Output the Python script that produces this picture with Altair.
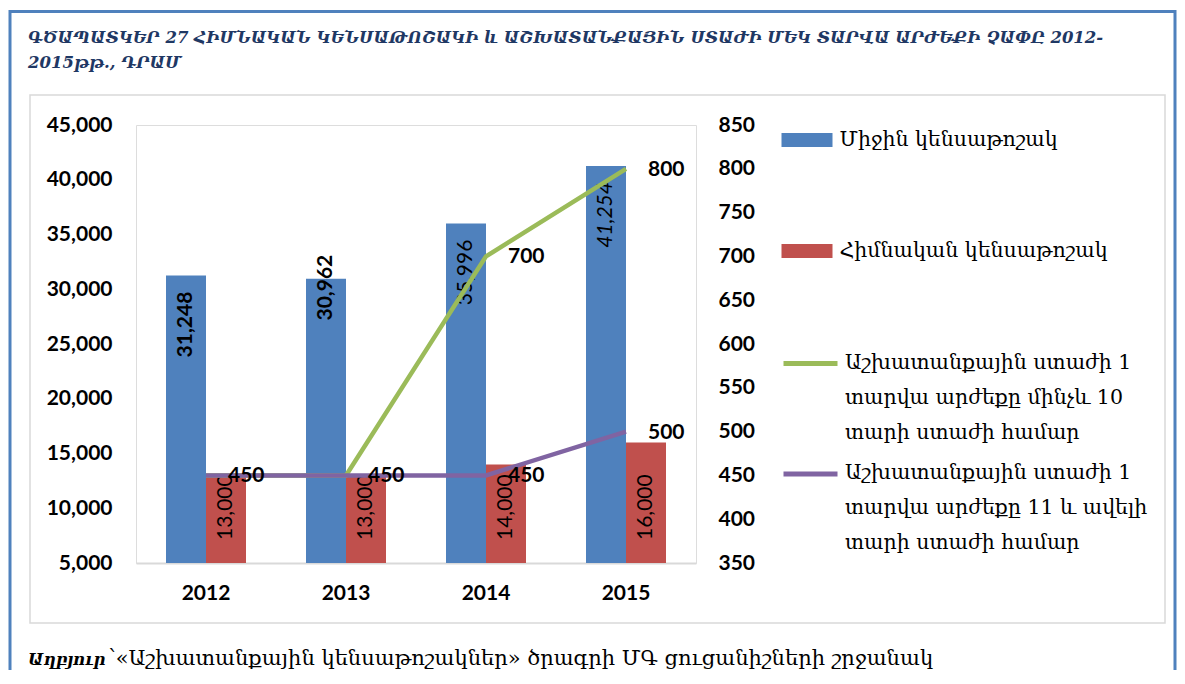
import altair as alt
import pandas as pd

# ---------------- data ----------------
years = ["2012", "2013", "2014", "2015"]
avg_pension = [31248, 30962, 35996, 41254]      # Միջին կենսաթոշակ
base_pension = [13000, 13000, 14000, 16000]     # Հիմնական կենսաթոշակ
value_upto10 = [450, 450, 700, 800]             # մինչև 10 տարի ստաժ
value_11plus = [450, 450, 450, 500]             # 11 և ավելի տարի ստաժ

bar_series = ["Միջին կենսաթոշակ", "Հիմնական  կենսաթոշակ"]
line_series = [
    "Աշխատանքային  ստաժի 1|տարվա արժեքը մինչև 10|տարի ստաժի համար",
    "Աշխատանքային ստաժի 1|տարվա արժեքը 11 և ավելի|տարի ստաժի համար",
]
left_ticks = [5000, 10000, 15000, 20000, 25000, 30000, 35000, 40000, 45000]
right_ticks = [350, 400, 450, 500, 550, 600, 650, 700, 750, 800, 850]

title_lines = [
    "ԳԾԱՊԱՏԿԵՐ  27 ՀԻՄՆԱԿԱՆ ԿԵՆՍԱԹՈՇԱԿԻ և ԱՇԽԱՏԱՆՔԱՅԻՆ ՍՏԱԺԻ ՄԵԿ ՏԱՐՎԱ ԱՐԺԵՔԻ ՉԱՓԸ 2012-",
    "2015թթ., ԴՐԱՄ",
]
source_label = "Աղբյուր"
source_text = "՝«Աշխատանքային կենսաթոշակներ» ծրագրի ՄԳ ցուցանիշների շրջանակ"

BLUE, RED, GREEN, PURPLE = "#4F81BD", "#C0504D", "#9BBB59", "#8064A2"
NUM_FONT = "Lato"
ARM_FONT = "DejaVu Serif"

bars = pd.DataFrame(
    [{"year": y, "series": bar_series[0], "value": v} for y, v in zip(years, avg_pension)]
    + [{"year": y, "series": bar_series[1], "value": v} for y, v in zip(years, base_pension)]
)
lines = pd.DataFrame(
    [{"year": y, "series": line_series[0], "value": v} for y, v in zip(years, value_upto10)]
    + [{"year": y, "series": line_series[1], "value": v} for y, v in zip(years, value_11plus)]
)

# ---------------- encodings ----------------
x_enc = alt.X(
    "year:N", sort=years,
    scale=alt.Scale(paddingInner=0.4286, paddingOuter=0.2143),
    axis=alt.Axis(title=None, labelAngle=0, labelFont=NUM_FONT, labelFontWeight="bold",
                  labelFontSize=21, labelColor="black", ticks=False, domainColor="#D9D9D9",
                  domainWidth=2, labelPadding=19, grid=False),
)
xoff = alt.XOffset("series:N", sort=bar_series,
                   scale=alt.Scale(domain=bar_series, paddingInner=0, paddingOuter=0))
left_scale = alt.Scale(domain=[5000, 45000], nice=False, zero=False)
left_axis = alt.Axis(title=None, values=left_ticks, format=",d", orient="left", domain=False,
                     ticks=False, grid=False, labelFont=NUM_FONT, labelFontWeight="bold",
                     labelFontSize=21, labelColor="black", labelPadding=24)
right_scale = alt.Scale(domain=[350, 850], nice=False, zero=False)
right_axis = alt.Axis(title=None, values=right_ticks, format="d", orient="right", domain=False,
                      ticks=False, grid=False, labelFont=NUM_FONT, labelFontWeight="bold",
                      labelFontSize=21, labelColor="black", labelPadding=22)

one = alt.Data(values=[{}])

# ---------------- decorations ----------------
outer_frame = alt.Chart(one).mark_rect(fill="transparent", stroke="#4F81BD", strokeWidth=3).encode(
    x=alt.value(-126), x2=alt.value(1039), y=alt.value(-113.5), y2=alt.value(640))
inner_box = alt.Chart(one).mark_rect(fill="transparent", stroke="#D9D9D9", strokeWidth=1.5).encode(
    x=alt.value(-106), x2=alt.value(1029), y=alt.value(-30), y2=alt.value(498))
title = alt.Chart(one).mark_text(
    text=title_lines, align="left", baseline="alphabetic", font=ARM_FONT, fontStyle="italic",
    fontWeight="bold", fontSize=16.5, color="#1F3864", lineHeight=25,
).encode(x=alt.value(-108), y=alt.value(-82))
foot1 = alt.Chart(one).mark_text(
    text=source_label, align="left", baseline="alphabetic", font=ARM_FONT, fontStyle="italic",
    fontWeight="bold", fontSize=16.5, color="black",
).encode(x=alt.value(-108), y=alt.value(540))
foot2 = alt.Chart(one).mark_text(
    text=source_text, align="left", baseline="alphabetic", font=ARM_FONT,
    fontSize=21, color="black",
).encode(x=alt.value(-28), y=alt.value(540))

# ---------------- bars ----------------
bar_layer = alt.Chart(bars).mark_bar().encode(
    x=x_enc, xOffset=xoff,
    y=alt.Y("value:Q", scale=left_scale, axis=left_axis),
    y2=alt.datum(5000),
    fill=alt.Fill("series:N", sort=bar_series,
                  scale=alt.Scale(domain=bar_series, range=[BLUE, RED]),
                  legend=alt.Legend(title=None, orient="none", legendX=645.5, legendY=-10.5,
                                    direction="vertical", padding=0,
                                    symbolType="M-1,-0.27H1V0.27H-1Z", symbolSize=2601,
                                    symbolStrokeWidth=0, labelFont=ARM_FONT, labelFontSize=20.5,
                                    labelColor="black", labelOffset=7, rowPadding=75,
                                    labelLimit=500)),
)

def blue_label(filter_expr, dx, weight, style):
    return alt.Chart(bars).transform_filter(
        f"datum.series == '{bar_series[0]}' && ({filter_expr})"
    ).mark_text(angle=270, align="right", baseline="middle", dx=dx, font=NUM_FONT,
                fontSize=21, fontWeight=weight, fontStyle=style, color="black").encode(
        x=x_enc, xOffset=xoff,
        y=alt.Y("value:Q", scale=left_scale, axis=left_axis),
        text=alt.Text("value:Q", format=",d"),
    )

blue_a = blue_label("datum.year == '2012'", -16, "bold", "normal")
blue_b = blue_label("datum.year == '2013'", 24, "bold", "normal")
blue_c = blue_label("datum.year == '2014'", -16, "normal", "normal")
blue_d = blue_label("datum.year == '2015'", -16, "normal", "italic")

red_labels = alt.Chart(bars).transform_filter(
    f"datum.series == '{bar_series[1]}'"
).transform_calculate(base="5000").mark_text(
    angle=270, align="left", baseline="middle", dx=23, font=NUM_FONT, fontSize=21,
    color="black").encode(
    x=x_enc, xOffset=xoff,
    y=alt.Y("base:Q", scale=left_scale, axis=left_axis),
    text=alt.Text("value:Q", format=",d"),
)

left = alt.layer(outer_frame, inner_box, title, foot1, foot2, bar_layer,
                 blue_a, blue_b, blue_c, blue_d, red_labels)

# ---------------- lines ----------------
stroke_enc = alt.Stroke(
    "series:N", sort=line_series,
    scale=alt.Scale(domain=line_series, range=[GREEN, PURPLE]),
    legend=alt.Legend(title=None, orient="none", legendX=658.5, legendY=211.7,
                      direction="vertical", padding=0, symbolType="M-2,0.8L2,0.8",
                      symbolSize=729, symbolStrokeWidth=5,
                      labelExpr="split(datum.label, '|')", labelBaseline="top",
                      labelFont=ARM_FONT, labelFontSize=20.5, labelColor="black",
                      labelOffset=18.5, rowPadding=3.5, labelLimit=500),
)

def line_layer(name):
    return alt.Chart(lines).transform_filter(f"datum.series == '{name}'").mark_line(
        strokeWidth=4.5).encode(
        x=x_enc, y=alt.Y("value:Q", scale=right_scale, axis=right_axis), stroke=stroke_enc)

green_line = line_layer(line_series[0])
purple_line = line_layer(line_series[1])

line_labels = alt.Chart(lines).transform_filter(
    f"datum.series == '{line_series[1]}' || datum.year == '2014' || datum.year == '2015'"
).mark_text(align="left", baseline="middle", dx=22, dy=1, font=NUM_FONT, fontSize=21,
            fontWeight="bold", color="black").encode(
    x=x_enc, y=alt.Y("value:Q", scale=right_scale, axis=right_axis),
    text=alt.Text("value:Q", format="d"),
)

right = alt.layer(green_line, purple_line, line_labels)

chart = alt.layer(left, right).resolve_scale(y="independent").properties(
    width=560, height=438,
    autosize=alt.AutoSizeParams(type="none"),
    padding={"left": 128, "top": 117, "right": 481, "bottom": 107},
    background="white",
).configure_view(strokeWidth=0).configure(
    style={"guide-label": {"lineHeight": 35}}
)

chart.save("out.html", embed_options={"renderer": "svg", "actions": False})
